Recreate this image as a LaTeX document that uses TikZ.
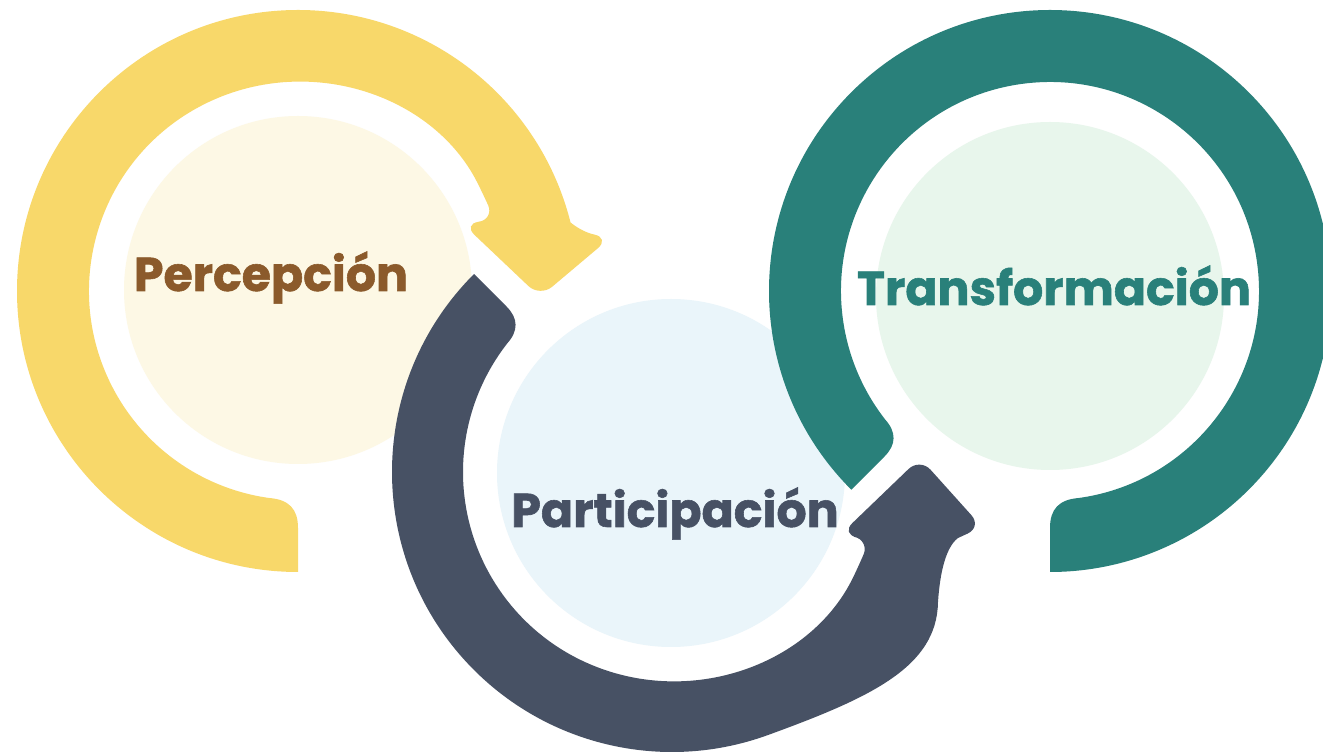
\documentclass[tikz,border=0pt]{standalone}
\usepackage{fontspec}
\setmainfont{Poppins}[BoldFeatures={FakeBold=1.2}]

\definecolor{ringyellow}{HTML}{F8D86A}
\definecolor{ringdark}{HTML}{475164}
\definecolor{ringteal}{HTML}{29807A}
\definecolor{softyellow}{HTML}{FDF8E5}
\definecolor{softblue}{HTML}{EAF5FA}
\definecolor{softgreen}{HTML}{E8F6EC}
\definecolor{labelbrown}{HTML}{8B5A2B}

\tikzset{
	lbl/.style={font=\fontsize{27}{32}\selectfont\bfseries, anchor=base, inner sep=0pt}
}

\begin{document}
\begin{tikzpicture}[x=0.02cm,y=0.02cm]
	\def\ro{281};
	\def\ri{209};
	\useasboundingbox (0,0) rectangle (1323,754);
	\fill[white] (0,0) rectangle (1323,754);

	\fill[softyellow] (298,464) circle (174);
	\fill[softblue] (671,281) circle (174);
	\fill[softgreen] (1050,458) circle (174);

	% Percepcion ring
	\begin{scope}[shift={(298,463)}]
		\fill[ringyellow] (270:\ro) arc[start angle=270, end angle=14, radius=\ro]
			[rounded corners=9pt] -- (280,60) -- (312,53) -- (242,-6) -- (165,67) -- (20:\ri) -- (27:\ri)
			[sharp corners] arc[start angle=27, end angle=262, radius=\ri]
			.. controls (-9,-208.5) and (0,-218) .. (0,-237) -- cycle;
	\end{scope}

	% Transformacion ring
	\begin{scope}[shift={(1050,463)}]
		\fill[ringteal] (225:\ro) arc[start angle=225, end angle=-90, radius=\ro]
			-- (0,-237) .. controls (0,-218) and (9,-208.5) .. (-82:\ri)
			arc[start angle=-82, end angle=218, radius=\ri]
			.. controls (-153.4,-141.4) and (-153.7,-153.7) .. (225:234) -- cycle;
	\end{scope}

	% Participacion ring
	\begin{scope}[shift={(672,282)}]
		\fill[ringdark] (135:280) arc[start angle=135, end angle=290, radius=280]
			.. controls (199,-225.5) and (265,-195) .. (266,-130)
			.. controls (268,-100) and (274,-75) .. (286,-66)
			[rounded corners=9pt] -- (310,-55) -- (248,14) -- (169,-62) -- (-19:\ri) -- (-26:\ri)
			[sharp corners] arc[start angle=-26, end angle=-218, radius=\ri]
			.. controls (-153.4,141.4) and (-153.7,153.7) .. (135:234) -- cycle;
	\end{scope}

	\node[lbl, text=labelbrown] (percepcion) at (271,463) {Percepción};
	\node[lbl, text=ringdark] (participacion) at (675,227) {Participación};
	\node[lbl, text=ringteal] (transformacion) at (1054,449) {Transformación};
\end{tikzpicture}
\end{document}
